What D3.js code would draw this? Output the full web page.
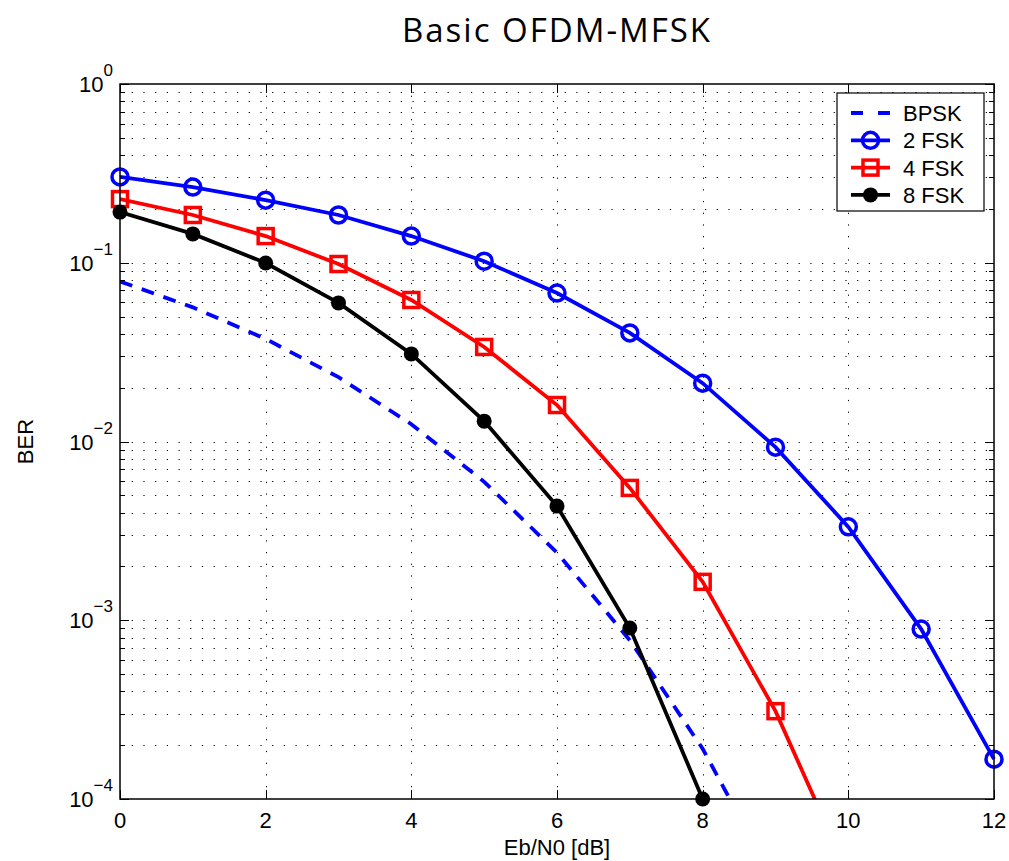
<!DOCTYPE html>
<html>
<head>
<meta charset="utf-8">
<script src="https://cdn.jsdelivr.net/npm/d3@7"></script>
<style>
body { margin: 0; background: #fff; }
svg { font-family: "Liberation Sans", Arial, sans-serif; }
</style>
</head>
<body>
<svg id="chart" width="1009" height="861"></svg>
<script>
// Data
var snr = [0, 1, 2, 3, 4, 5, 6, 7, 8, 9, 10, 11, 12];
var bpsk = [0.0786, 0.0563, 0.0375, 0.0229, 0.0125, 0.00595, 0.00239, 0.000773, 0.000191, 0.0000336];
var fsk2 = [0.302, 0.265, 0.224, 0.185, 0.141, 0.102, 0.0677, 0.0405, 0.0212, 0.0093, 0.00333, 0.000893, 0.000167];
var fsk4 = [0.227, 0.185, 0.141, 0.0984, 0.0619, 0.0338, 0.016, 0.0055, 0.00164, 0.00031, 0.000038];
var fsk8 = [0.192, 0.145, 0.0997, 0.0596, 0.0309, 0.013, 0.00435, 0.000905, 0.0001];
var xTicks = [0, 2, 4, 6, 8, 10, 12];
var yTicks = [1e-4, 1e-3, 1e-2, 1e-1, 1];

var series = [
	{ name: "BPSK", values: bpsk, color: "#0000ff", dash: "13,10", marker: "none" },
	{ name: "2 FSK", values: fsk2, color: "#0000ff", dash: null, marker: "circle" },
	{ name: "4 FSK", values: fsk4, color: "#ff0000", dash: null, marker: "square" },
	{ name: "8 FSK", values: fsk8, color: "#000000", dash: null, marker: "dot" }
];

var svg = d3.select("#chart");
// plot box (don't call it "top", that's window.top)
var pLeft = 120, pRight = 994, pTop = 84, pBottom = 799;

var x = d3.scaleLinear().domain([0, 12]).range([pLeft, pRight]);
var y = d3.scaleLog().domain([1e-4, 1]).range([pBottom, pTop]);

// minor log ticks
var minor = [];
for (var e = -4; e < 0; e++) {
	for (var m = 2; m <= 9; m++) minor.push(m * Math.pow(10, e));
}

// Grid
var grid = svg.append("g").attr("class", "grid")
	.attr("stroke", "#000").attr("stroke-width", 1).attr("stroke-dasharray", "1.2,10.5");
grid.selectAll("line.h")
	.data(minor.concat(yTicks.slice(1, 4)))
	.enter().append("line")
	.attr("x1", pLeft).attr("x2", pRight)
	.attr("y1", (d) => Math.round(y(d)) + 0.5)
	.attr("y2", (d) => Math.round(y(d)) + 0.5);
grid.selectAll("line.v")
	.data(xTicks.slice(1, -1))
	.enter().append("line")
	.attr("y1", pTop).attr("y2", pBottom)
	.attr("x1", (d) => Math.round(x(d)) + 0.5)
	.attr("x2", (d) => Math.round(x(d)) + 0.5);

// Series, clipped to the plot box
svg.append("clipPath").attr("id", "clip")
	.append("rect").attr("x", pLeft).attr("y", pTop - 10).attr("width", pRight - pLeft + 10).attr("height", pBottom - pTop + 10);

var line = d3.line()
	.x((d, i) => x(snr[i]))
	.y((d) => y(d));

var plot = svg.append("g").attr("clip-path", "url(#clip)");

series.forEach(function (s) {
	plot.append("path")
		.datum(s.values)
		.attr("fill", "none")
		.attr("stroke", s.color)
		.attr("stroke-width", 3.8)
		.attr("stroke-dasharray", s.dash)
		.attr("d", line);
});

function drawMarker(g, type, color, cx, cy) {
	if (type == "circle") {
		g.append("circle").attr("cx", cx).attr("cy", cy).attr("r", 8)
			.attr("fill", "none").attr("stroke", color).attr("stroke-width", 3.5);
	} else if (type == "square") {
		g.append("rect").attr("x", cx - 7.5).attr("y", cy - 7.5).attr("width", 15).attr("height", 15)
			.attr("fill", "none").attr("stroke", color).attr("stroke-width", 3.5);
	} else if (type == "dot") {
		g.append("circle").attr("cx", cx).attr("cy", cy).attr("r", 7.5).attr("fill", color);
	}
}

var marks = svg.append("g");
series.forEach(function (s) {
	s.values.forEach(function (v, i) {
		if (v >= 1e-4 * 0.999) drawMarker(marks, s.marker, s.color, x(snr[i]), y(v));
	});
});

// Axes box and ticks
var axes = svg.append("g").attr("stroke", "#000").attr("fill", "none");
axes.append("rect").attr("x", pLeft).attr("y", pTop).attr("width", pRight - pLeft).attr("height", pBottom - pTop)
	.attr("stroke-width", 1.5);

xTicks.forEach(function (t) {
	var px = Math.round(x(t)) + 0.5;
	axes.append("line").attr("x1", px).attr("x2", px).attr("y1", pBottom).attr("y2", pBottom - 9);
	axes.append("line").attr("x1", px).attr("x2", px).attr("y1", pTop).attr("y2", pTop + 9);
});
minor.concat(yTicks).forEach(function (t) {
	var py = Math.round(y(t)) + 0.5;
	var len = yTicks.indexOf(t) >= 0 ? 9 : 5;
	axes.append("line").attr("x1", pLeft).attr("x2", pLeft + len).attr("y1", py).attr("y2", py);
	axes.append("line").attr("x1", pRight).attr("x2", pRight - len).attr("y1", py).attr("y2", py);
});

// Tick labels
svg.append("g").selectAll("text")
	.data(xTicks)
	.enter().append("text")
	.attr("x", (d) => x(d))
	.attr("y", pBottom + 29)
	.attr("text-anchor", "middle")
	.attr("font-size", 22)
	.text((d) => d);

var yl = svg.append("g").selectAll("text")
	.data(yTicks)
	.enter().append("text")
	.attr("x", pLeft - 7)
	.attr("y", (d) => y(d) + 8)
	.attr("text-anchor", "end")
	.attr("font-size", 22);
yl.append("tspan").text("10");
yl.append("tspan")
	.attr("dy", -16)
	.attr("font-size", 17)
	.text((d) => String(Math.round(Math.log10(d))).replace("-", "\u2212"));

// Title and axis labels
svg.append("text")
	.attr("x", (pLeft + pRight) / 2).attr("y", 42)
	.attr("text-anchor", "middle")
	.style("font-family", "'Open Sans', 'Noto Sans', sans-serif")
	.style("letter-spacing", "2px")
	.attr("font-size", 33)
	.text("Basic OFDM-MFSK");

svg.append("text")
	.attr("x", (pLeft + pRight) / 2).attr("y", 855)
	.attr("text-anchor", "middle")
	.attr("font-size", 22)
	.text("Eb/N0 [dB]");

svg.append("text")
	.attr("transform", "translate(33," + ((pTop + pBottom) / 2) + ") rotate(-90)")
	.attr("text-anchor", "middle")
	.attr("font-size", 22)
	.text("BER");

// Legend
var lg = svg.append("g").attr("transform", "translate(837,93)");
lg.append("rect").attr("width", 147).attr("height", 118)
	.attr("fill", "#fff").attr("stroke", "#000").attr("stroke-width", 1.2);
series.forEach(function (s, i) {
	var ly = 20 + i * 27.3;
	lg.append("line")
		.attr("x1", 14).attr("x2", 53).attr("y1", ly).attr("y2", ly)
		.attr("stroke", s.color).attr("stroke-width", 3.8)
		.attr("stroke-dasharray", s.dash ? "12,15" : null);
	drawMarker(lg, s.marker, s.color, 33.5, ly);
	lg.append("text")
		.attr("x", 66).attr("y", ly + 8)
		.attr("font-size", 22)
		.text(s.name);
});
</script>
</body>
</html>
